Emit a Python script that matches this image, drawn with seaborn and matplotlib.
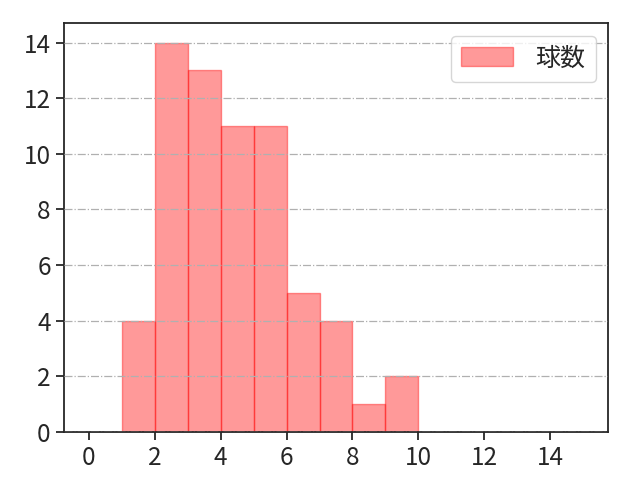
import matplotlib
matplotlib.use("Agg")
import matplotlib.pyplot as plt
import numpy as np
import seaborn as sns

# pitch-count histogram (bin edges and counts)
bin_edges = [1, 2, 3, 4, 5, 6, 7, 8, 9, 10]
bin_counts = [4, 14, 13, 11, 11, 5, 4, 1, 2]
label = "球数"

sns.set_style("ticks")
plt.rcParams["font.family"] = ["Noto Sans CJK JP", "DejaVu Sans"]

centers = [(a + b) / 2 for a, b in zip(bin_edges[:-1], bin_edges[1:])]

fig, ax = plt.subplots(figsize=(6.4, 4.8), dpi=100)
sns.histplot(x=centers, weights=bin_counts, bins=bin_edges, label=label, ax=ax)
for p in ax.patches:
    p.set_alpha(None)
    p.set_facecolor((1, 0, 0, 0.4))
    p.set_edgecolor((1, 0, 0, 0.4))
    p.set_linewidth(1)

ax.set_xlim(-0.75, 15.75)
ax.set_ylim(0, 14.7)
ax.set_xticks(np.arange(0, 15, 2))
ax.set_yticks(np.arange(0, 15, 2))
ax.set_xticklabels([str(v) for v in range(0, 15, 2)], fontsize=17.5)
ax.set_yticklabels([str(v) for v in range(0, 15, 2)], fontsize=17.5)
ax.tick_params(length=6, width=1.3)
ax.set_xlabel("")
ax.set_ylabel("")
ax.grid(axis="y", linestyle="-.", color="#b0b0b0", linewidth=0.9)
ax.set_axisbelow(False)
for s in ax.spines.values():
    s.set_linewidth(1.3)

ax.legend(loc="upper right", fontsize=18, handlelength=2.1, handleheight=0.8,
          handletextpad=0.9)

fig.subplots_adjust(left=0.1, right=0.95, top=0.952, bottom=0.1)
fig.savefig("out.png")
